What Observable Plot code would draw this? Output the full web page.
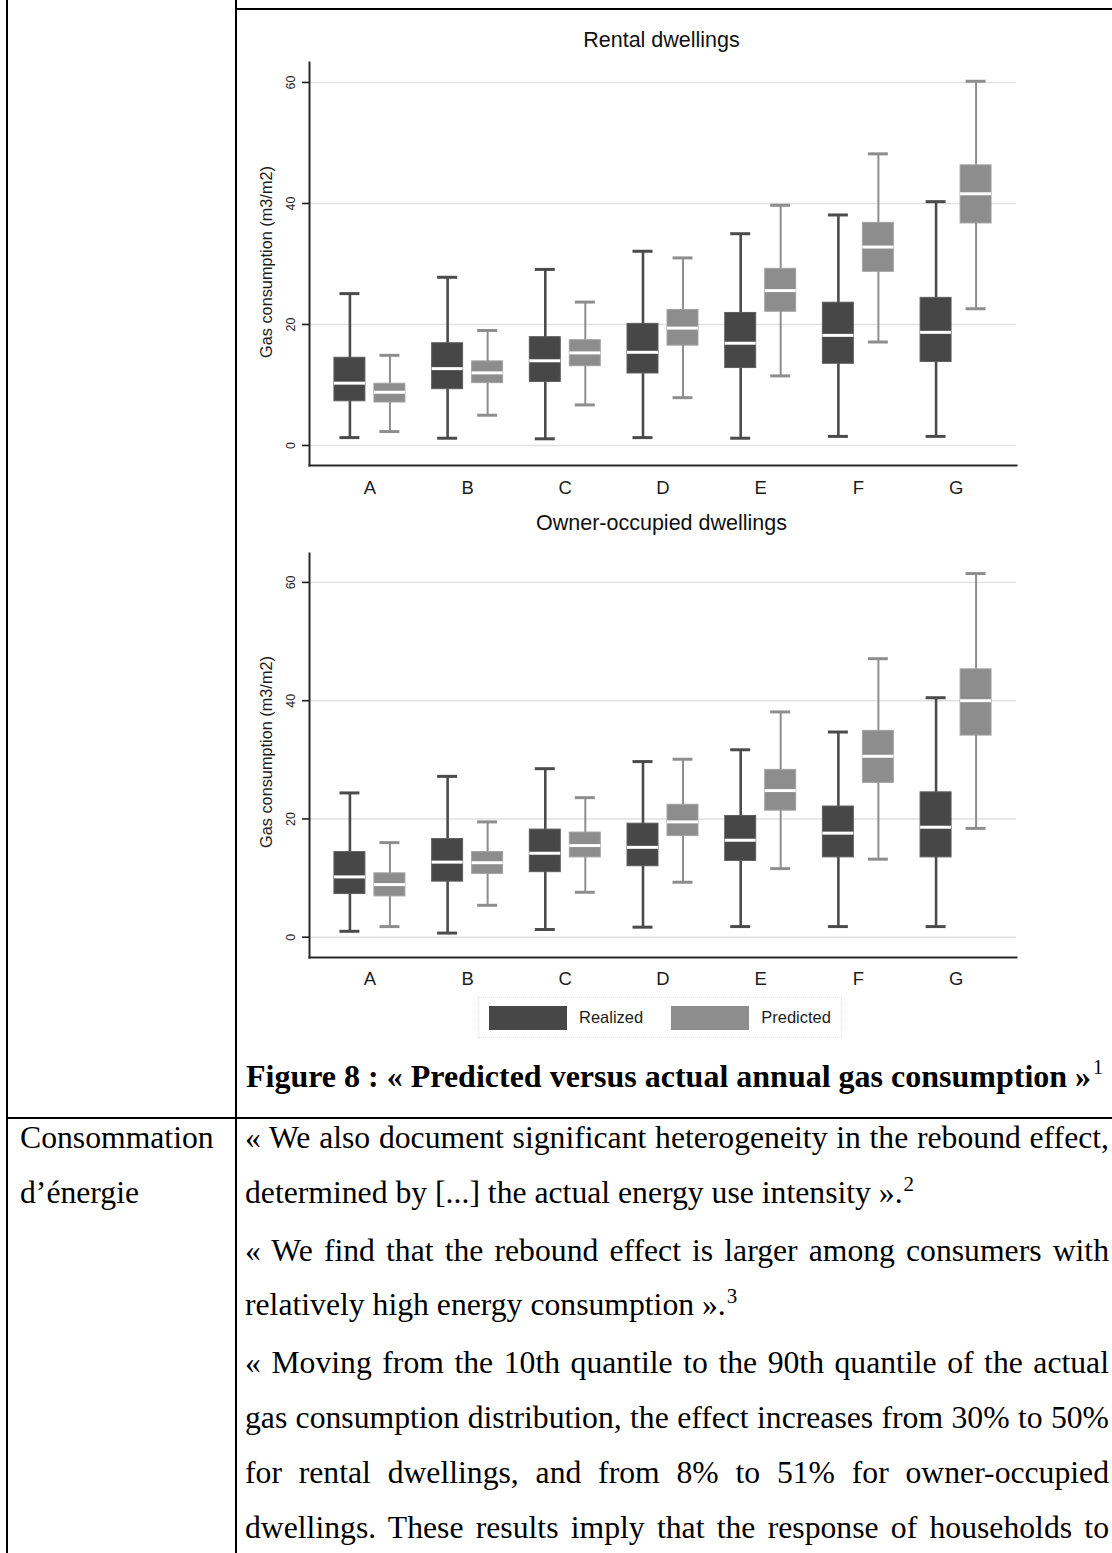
<!DOCTYPE html>
<html>
<head>
<meta charset="utf-8">
<script src="https://cdn.jsdelivr.net/npm/d3@7"></script>
<script src="https://cdn.jsdelivr.net/npm/@observablehq/plot@0.6"></script>
<style>
  html, body { margin: 0; padding: 0; background: #fff; }
  body { width: 1112px; height: 1553px; position: relative; overflow: hidden; }
  .line { position: absolute; background: #000; }
  .chart { position: absolute; left: 240px; width: 786px; }
  .ptitle { position: absolute; left: 461.5px; width: 400px; text-align: center;
            font-family: "Liberation Sans", Arial, sans-serif; font-size: 21.5px; line-height: 1;
            color: #111; white-space: nowrap; }
  .serif { font-family: "Liberation Serif", "Times New Roman", serif; color: #000; }
  .caption { position: absolute; left: 246px; top: 1060px; font-weight: bold; font-size: 32px;
             line-height: 1; white-space: nowrap; }
  .sup { font-weight: normal; font-size: 20px; position: relative; top: -13px; margin-left: 2px; }
  .sup2 { font-size: 21px; position: relative; top: -12px; margin-left: 1px; }
  .body { position: absolute; left: 245px; top: 1111px; width: 864px; font-size: 31.7px; line-height: 54.8px; }
  .body div { text-align: justify; text-align-last: justify; white-space: nowrap; }
  .body div.end { text-align-last: left; }
  .leftcol { position: absolute; left: 20px; top: 1111px; font-size: 31.7px; line-height: 54.8px; }
  #legend { position: absolute; left: 478px; top: 997px; width: 362px; height: 39px; border: 1px dotted #e2e2e2; }
  #legend .lg-swatches { font-family: "Liberation Sans", Arial, sans-serif; font-size: 16.5px; color: #1c1c1c; margin: 0; }
  #legend .lg-swatches-wrap { min-height: 39px; padding-left: 10px; flex-wrap: nowrap; }
  #legend .lg-swatch { margin-right: 28px; }
  #legend .lg-swatch > svg { margin-right: 12px; }
</style>
</head>
<body>
<div class="line" style="left:6.3px;top:0;width:2px;height:1553px"></div>
<div class="line" style="left:234.7px;top:0;width:2px;height:1553px"></div>
<div class="line" style="left:234.7px;top:8px;width:878px;height:2px"></div>
<div class="line" style="left:6.3px;top:1116.7px;width:1106px;height:2px"></div>

<div class="ptitle" style="top:29.8px">Rental dwellings</div>
<div id="c1" class="chart" style="top:55px"></div>
<div class="ptitle" style="top:512.8px">Owner-occupied dwellings</div>
<div id="c2" class="chart" style="top:545px"></div>
<div id="legend"></div>

<div class="caption serif">Figure 8 : « Predicted versus actual annual gas consumption »<span class="sup">1</span></div>

<div class="leftcol serif">
  <div>Consommation</div>
  <div>d’énergie</div>
</div>
<div class="body serif">
  <div>« We also document significant heterogeneity in the rebound effect,</div>
  <div class="end">determined by [...] the actual energy use intensity ».<span class="sup2">2</span></div>
  <div>« We find that the rebound effect is larger among consumers with</div>
  <div class="end">relatively high energy consumption ».<span class="sup2">3</span></div>
  <div>« Moving from the 10th quantile to the 90th quantile of the actual</div>
  <div>gas consumption distribution, the effect increases from 30% to 50%</div>
  <div>for rental dwellings, and from 8% to 51% for owner-occupied</div>
  <div>dwellings. These results imply that the response of households to</div>
</div>

<script>
// Energy labels on the x axis
const categories = ["A", "B", "C", "D", "E", "F", "G"];
const series = ["Realized", "Predicted"];
const yTicks = [0, 20, 40, 60];
const yLabel = "Gas consumption (m3/m2)";

// Box summaries per label: [lower whisker, Q1, median, Q3, upper whisker]
const rentalRealized = [
  [1.3, 7.3, 10.3, 14.5, 25.1], [1.2, 9.3, 12.7, 16.9, 27.8], [1.1, 10.5, 14.0, 17.9, 29.1],
  [1.3, 11.9, 15.4, 20.1, 32.1], [1.2, 12.8, 16.9, 21.9, 35.0], [1.5, 13.5, 18.2, 23.6, 38.1],
  [1.5, 13.8, 18.7, 24.4, 40.3]
];
const rentalPredicted = [
  [2.3, 7.1, 8.8, 10.2, 14.9], [5.0, 10.3, 12.0, 13.9, 19.0], [6.7, 13.1, 15.3, 17.4, 23.7],
  [7.9, 16.5, 19.4, 22.4, 31.0], [11.5, 22.1, 25.6, 29.2, 39.7], [17.1, 28.7, 32.8, 36.8, 48.2],
  [22.6, 36.7, 41.6, 46.3, 60.2]
];
const ownerRealized = [
  [1.0, 7.3, 10.2, 14.4, 24.4], [0.7, 9.4, 12.7, 16.6, 27.2], [1.3, 11.0, 14.2, 18.2, 28.5],
  [1.7, 12.0, 15.2, 19.2, 29.7], [1.8, 12.9, 16.4, 20.5, 31.7], [1.8, 13.5, 17.6, 22.1, 34.7],
  [1.8, 13.5, 18.6, 24.5, 40.5]
];
const ownerPredicted = [
  [1.8, 6.9, 8.9, 10.8, 16.0], [5.4, 10.7, 12.6, 14.4, 19.5], [7.6, 13.5, 15.5, 17.7, 23.6],
  [9.3, 17.1, 19.5, 22.4, 30.1], [11.6, 21.4, 24.8, 28.3, 38.1], [13.2, 26.1, 30.6, 34.9, 47.1],
  [18.4, 34.1, 40.0, 45.3, 61.5]
];

const fills = {Realized: "#474747", Predicted: "#8d8d8d"};
const edges = {Realized: "#5e5e5e", Predicted: "#a2a2a2"};
const whiskers = {Realized: "#4b4b4b", Predicted: "#8e8e8e"};
const groupOffset = 20; // half the distance between the two boxes of a label

function toRows(summary) {
  return summary.map(([lo, q1, med, q3, hi], i) => ({category: categories[i], lo, q1, med, q3, hi}));
}

function boxes(rows, name, dx) {
  const w = name === "Realized" ? 2.6 : 2;
  return [
    Plot.ruleX(rows, {x: "category", y1: "lo", y2: "hi", dx, stroke: whiskers[name], strokeWidth: w}),
    Plot.tickY(rows, {x: "category", y: "hi", dx, stroke: whiskers[name], strokeWidth: 3, insetLeft: 5.5, insetRight: 5.5}),
    Plot.tickY(rows, {x: "category", y: "lo", dx, stroke: whiskers[name], strokeWidth: 3, insetLeft: 5.5, insetRight: 5.5}),
    Plot.barY(rows, {x: "category", y1: "q1", y2: "q3", dx, fill: fills[name], stroke: edges[name], strokeWidth: 1}),
    Plot.tickY(rows, {x: "category", y: "med", dx, stroke: "#fff", strokeWidth: 3})
  ];
}

function panel(realized, predicted, {height, marginTop, yDomain, labelPad, labelShift}) {
  return Plot.plot({
    width: 786,
    height,
    marginLeft: 69,
    marginRight: 10,
    marginTop,
    marginBottom: 40,
    style: {fontFamily: "'Liberation Sans', Arial, sans-serif", color: "#1c1c1c", background: "transparent"},
    x: {domain: categories, paddingInner: 0.683, paddingOuter: 0.46, round: false},
    y: {domain: yDomain},
    marks: [
      Plot.gridY({ticks: yTicks, stroke: "#e1e1e1", strokeOpacity: 1, strokeWidth: 1.4}),
      ...boxes(toRows(realized), "Realized", -groupOffset),
      ...boxes(toRows(predicted), "Predicted", groupOffset),
      Plot.frame({anchor: "left", stroke: "#2a2a2a", strokeWidth: 2}),
      Plot.frame({anchor: "bottom", stroke: "#2a2a2a", strokeWidth: 2}),
      Plot.axisY({ticks: yTicks, tickSize: 7, tickPadding: 8, tickRotate: -90, fontSize: 12.5, strokeWidth: 1.6, label: null}),
      Plot.axisX({tickSize: 0, tickPadding: labelPad, fontSize: 18.5, label: null}),
      Plot.text([yLabel], {text: d => d, frameAnchor: "left", textAnchor: "middle", lineAnchor: "middle",
                           rotate: -90, dx: -43, dy: labelShift, fontSize: 16.3, fill: "#1c1c1c"})
    ]
  });
}

document.getElementById("c1").append(
  panel(rentalRealized, rentalPredicted, {height: 450, marginTop: 7, yDomain: [-3.31, 63.3], labelPad: 15, labelShift: -2})
);
document.getElementById("c2").append(
  panel(ownerRealized, ownerPredicted, {height: 452, marginTop: 8, yDomain: [-3.43, 64.89], labelPad: 14, labelShift: -3.5})
);

document.getElementById("legend").append(
  Plot.legend({
    color: {type: "ordinal", domain: series, range: series.map(s => fills[s])},
    swatchWidth: 78,
    swatchHeight: 24,
    className: "lg"
  })
);
</script>
</body>
</html>
